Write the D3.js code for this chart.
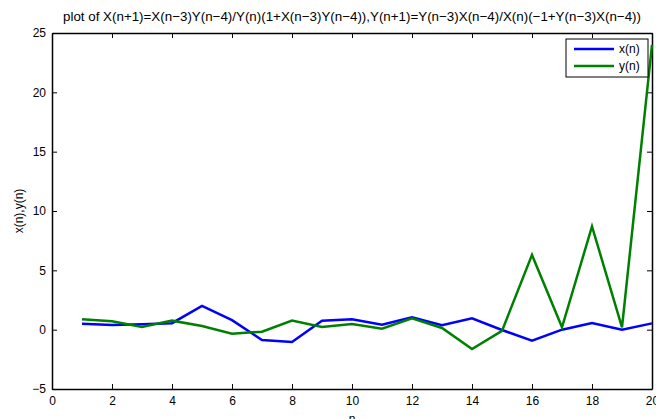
<!DOCTYPE html>
<html>
<head>
<meta charset="utf-8">
<script src="https://cdn.jsdelivr.net/npm/d3@7"></script>
<style>
  body { margin: 0; background: #fff; }
  svg { display: block; font-family: "Liberation Sans", Arial, sans-serif; }
  .tick text { font-size: 12px; fill: #000; }
</style>
</head>
<body>
<svg width="656" height="419"></svg>
<script>
(function () {
  "use strict";
  const n = [1, 2, 3, 4, 5, 6, 7, 8, 9, 10, 11, 12, 13, 14, 15, 16, 17, 18, 19, 20];
  const xSeries = [0.5, 0.4, 0.45, 0.55, 2.0, 0.8, -0.87, -1.04, 0.75, 0.87,
    0.42, 1.04, 0.37, 0.95, -0.03, -0.93, 0.0, 0.56, 0.0, 0.53];
  const ySeries = [0.87, 0.7, 0.22, 0.76, 0.31, -0.34, -0.17, 0.76, 0.22, 0.48,
    0.08, 0.95, 0.14, -1.63, -0.1, 6.3, 0.2, 8.7, 0.2, 24.0];
  const xTicks = [0, 2, 4, 6, 8, 10, 12, 14, 16, 18, 20];
  const yTicks = [-5, 0, 5, 10, 15, 20, 25];
  const seriesNames = ["x(n)", "y(n)"];
  const colors = ["#0000ff", "#008000"];

  const svg = d3.select("svg");
  const margin = { top: 33, right: 4, bottom: 30, left: 52 };
  const width = +svg.attr("width");
  const height = +svg.attr("height");
  const innerWidth = width - margin.left - margin.right;
  const innerHeight = height - margin.top - margin.bottom;

  const xScale = d3.scaleLinear().domain([0, 20]).range([0, innerWidth]);
  const yScale = d3.scaleLinear().domain([-5, 25]).range([innerHeight, 0]);

  const g = svg.append("g")
    .attr("transform", `translate(${margin.left},${margin.top})`);

  // frame axes, ticks pointing inward like matlab
  const bottom = g.append("g")
    .attr("transform", `translate(0,${innerHeight})`)
    .call(d3.axisBottom(xScale).tickValues(xTicks).tickSizeInner(-5).tickSizeOuter(0).tickPadding(7));
  const top = g.append("g")
    .call(d3.axisTop(xScale).tickValues(xTicks).tickSizeInner(-5).tickSizeOuter(0).tickFormat(""));
  const left = g.append("g")
    .call(d3.axisLeft(yScale).tickValues(yTicks).tickSizeInner(-5).tickSizeOuter(0).tickPadding(6));
  const right = g.append("g")
    .attr("transform", `translate(${innerWidth},0)`)
    .call(d3.axisRight(yScale).tickValues(yTicks).tickSizeInner(-5).tickSizeOuter(0).tickFormat(""));

  [bottom, top, left, right].forEach((a) => {
    a.selectAll(".domain").attr("stroke", "#000").attr("stroke-width", 1.5);
    a.selectAll(".tick line").attr("stroke", "#000");
  });
  left.selectAll(".tick text").text((d) => (d < 0 ? "\u2212" + Math.abs(d) : d));

  const line = (vals) => d3.line()
    .x((d, i) => xScale(n[i]))
    .y((d) => yScale(d))(vals);

  [xSeries, ySeries].forEach((vals, i) => {
    g.append("path")
      .attr("d", line(vals))
      .attr("fill", "none")
      .attr("stroke", colors[i])
      .attr("stroke-width", 2.5)
      .attr("stroke-linejoin", "miter");
  });

  // legend
  const lg = g.append("g").attr("transform", `translate(${innerWidth - 86},6)`);
  lg.append("rect")
    .attr("width", 82).attr("height", 38)
    .attr("fill", "#fff").attr("stroke", "#000").attr("stroke-width", 1);
  seriesNames.forEach((name, i) => {
    const yy = 10 + i * 17;
    lg.append("line")
      .attr("x1", 8).attr("x2", 48).attr("y1", yy).attr("y2", yy)
      .attr("stroke", colors[i]).attr("stroke-width", 2.5);
    lg.append("text")
      .attr("x", 53).attr("y", yy + 4)
      .attr("font-size", 12)
      .text(name);
  });

  svg.append("text")
    .attr("x", 63)
    .attr("y", 21)
    .attr("font-size", 13)
    .attr("textLength", 578)
    .attr("lengthAdjust", "spacingAndGlyphs")
    .text("plot of X(n+1)=X(n\u22123)Y(n\u22124)/Y(n)(1+X(n\u22123)Y(n\u22124)),Y(n+1)=Y(n\u22123)X(n\u22124)/X(n)(\u22121+Y(n\u22123)X(n\u22124))");

  svg.append("text")
    .attr("x", margin.left + innerWidth / 2)
    .attr("y", 423)
    .attr("text-anchor", "middle")
    .attr("font-size", 12)
    .text("n");

  svg.append("text")
    .attr("transform", `translate(23,${margin.top + innerHeight / 2}) rotate(-90)`)
    .attr("text-anchor", "middle")
    .attr("font-size", 12)
    .text("x(n),y(n)");
})();
</script>
</body>
</html>
